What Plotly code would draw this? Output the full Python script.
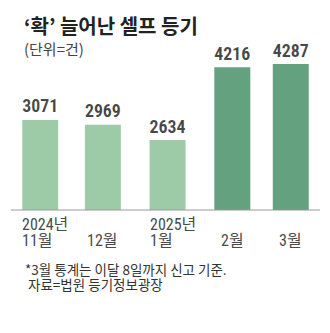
import plotly.graph_objects as go

# Monthly self-filed registration counts
months = ["2024-11", "2024-12", "2025-01", "2025-02", "2025-03"]
year_labels = ["2024년", "", "2025년", "", ""]
month_labels = ["11월", "12월", "1월", "2월", "3월"]
counts = [3071, 2969, 2634, 4216, 4287]
bar_colors = ["#9dcaa7", "#9dcaa7", "#9dcaa7", "#63a17f", "#63a17f"]

title_text = "<b>‘확’ 늘어난 셀프 등기</b>"
unit_text = "(단위=건)"
note_lines = ["*3월 통계는 이달 8일까지 신고 기준.", " 자료=법원 등기정보광장"]

NUM_FONT = "Roboto Condensed, Noto Sans CJK KR, sans-serif"
TICK_FONT = "Roboto Condensed, Noto Sans CJK KR, sans-serif"
KR_FONT = "Noto Sans CJK KR, sans-serif"

W, H = 330, 333
ML, MR, MT, MB = 11, 10, 40, 123
plot_w = W - ML - MR
plot_h = H - MT - MB


def px(x):
    return (x - ML) / plot_w


def py(y):
    return (H - MB - y) / plot_h


fig = go.Figure()
fig.add_trace(go.Bar(
    x=months,
    y=counts,
    marker=dict(color=bar_colors, line=dict(width=0)),
    text=[f"{v}" for v in counts],
    textposition="outside",
    textfont=dict(family=NUM_FONT, size=20, color="#474747", weight=600),
    cliponaxis=False,
    hoverinfo="skip",
))

# Category labels under the bars; the two-line ones hug the bar's left edge
for m, yr, mo in zip(months, year_labels, month_labels):
    if yr:
        fig.add_annotation(x=m, y=py(214), xref="x", yref="paper", text=yr,
                           showarrow=False, xanchor="left", xshift=-19, yanchor="top",
                           borderpad=0,
                           font=dict(family=TICK_FONT, size=16, color="#4a4a4a"))
    fig.add_annotation(x=m, y=py(230), xref="x", yref="paper", text=mo,
                       showarrow=False, xanchor="left" if yr else "center",
                       xshift=-19 if yr else 0, yanchor="top", borderpad=0,
                       font=dict(family=TICK_FONT, size=16, color="#4a4a4a"))

# Title, unit and notes
fig.add_annotation(x=px(23), y=py(10), xref="paper", yref="paper", text=title_text,
                   showarrow=False, xanchor="left", yanchor="top", borderpad=0,
                   font=dict(family=KR_FONT, size=20, color="#222222"))
fig.add_annotation(x=px(23), y=py(37), xref="paper", yref="paper", text=unit_text,
                   showarrow=False, xanchor="left", yanchor="top", borderpad=0,
                   font=dict(family=KR_FONT, size=15, color="#444444"))
for i, line in enumerate(note_lines):
    fig.add_annotation(x=px(24), y=py(258 + 15 * i), xref="paper", yref="paper", text=line,
                       showarrow=False, xanchor="left", yanchor="top", borderpad=0,
                       font=dict(family=KR_FONT, size=13.5, color="#333333"))

fig.update_layout(
    width=W, height=H,
    margin=dict(l=ML, r=MR, t=MT, b=MB),
    paper_bgcolor="white", plot_bgcolor="white",
    bargap=0.385,
    showlegend=False,
    xaxis=dict(showticklabels=False, showgrid=False, zeroline=False,
               showline=False, ticks=""),
    yaxis=dict(range=[1115, 4808], visible=False, showgrid=False, zeroline=False),
    shapes=[dict(type="line", xref="paper", yref="paper", x0=0, x1=1, y0=0, y1=0,
                 line=dict(color="#9a9a9a", width=1))],
)

fig.write_html("out.html")
